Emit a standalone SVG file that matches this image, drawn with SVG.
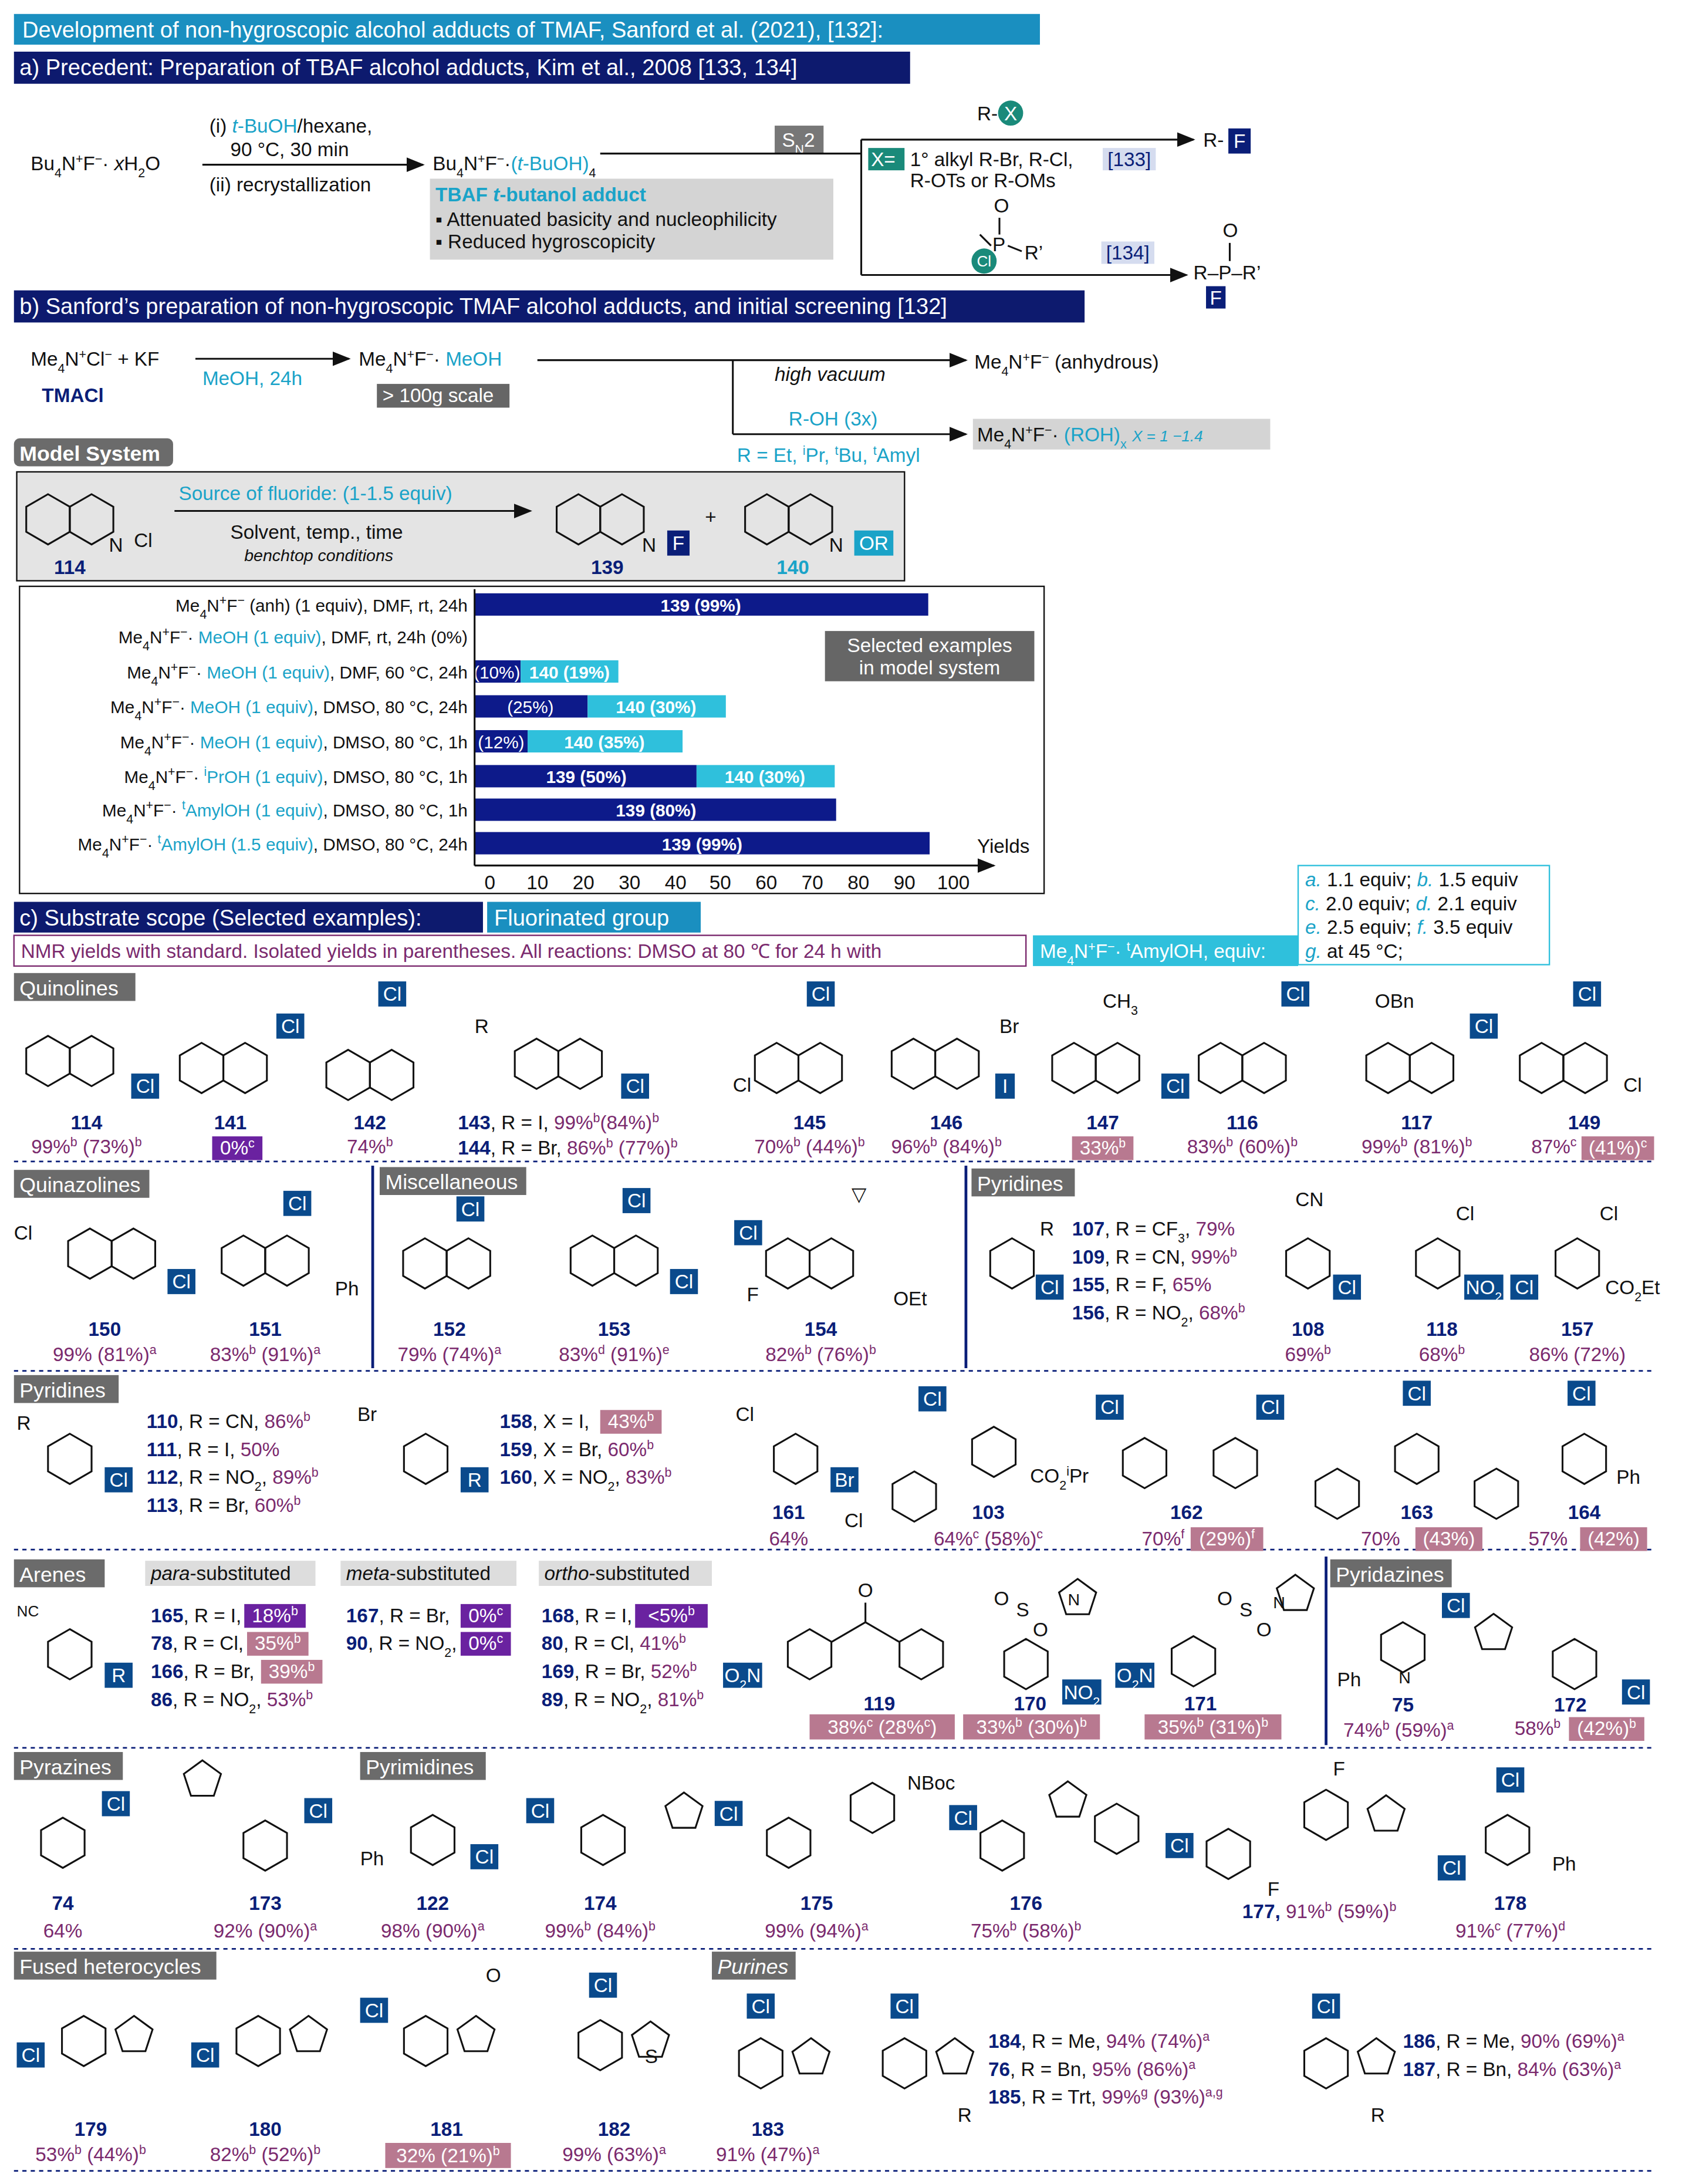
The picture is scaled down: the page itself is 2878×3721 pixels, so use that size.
<svg xmlns="http://www.w3.org/2000/svg" xmlns:xlink="http://www.w3.org/1999/xlink" width="2878" height="3721" viewBox="0 0 2878 3721">
<style>
text{font-family:"Liberation Sans",Arial,sans-serif;font-size:14px;fill:#111}
.w{fill:#fff}.t{fill:#1aa3c8}.n{fill:#0a1e78}.p{fill:#7b2a6e}.b{font-weight:bold}.i{font-style:italic}
.m{text-anchor:middle}.e{text-anchor:end}
.s{font-size:9px;baseline-shift:super}.d{font-size:9px;baseline-shift:sub}
.clb rect{fill:#0a4a8c}.clb text{fill:#fff;text-anchor:middle;font-size:14px}
.ring{fill:none;stroke:#111;stroke-width:1.3}
.ln{stroke:#111;stroke-width:1.3;fill:none}
.sep{stroke:#0a1e78;stroke-width:1.2;stroke-dasharray:3 3}
.hd rect{fill:#6b6b6b}.hd text{fill:#fff;font-size:15px}
.bx{fill:#b87990}.bxd{fill:#6a22a0}
</style>
<defs>
<path id="h" class="ring" d="M0,-18 L15.6,-9 L15.6,9 L0,18 L-15.6,9 L-15.6,-9Z"/>
<g id="q"><use xlink:href="#h" x="-15.6"/><use xlink:href="#h" x="15.6"/></g>
<path id="pt" class="ring" d="M0,-14 L13.3,-4.3 L8.2,11.3 L-8.2,11.3 L-13.3,-4.3Z"/>
<marker id="ar" markerWidth="10" markerHeight="8" refX="9" refY="4" orient="auto"><path d="M0,0 L10,4 L0,8Z" fill="#111"/></marker>
</defs>
<rect width="2878" height="3721" fill="#fff"/>
<g transform="scale(2.3785)">
<g id="headers">
<rect x="10" y="10" width="735" height="22" fill="#1a8fc0"/><text x="16" y="27" class="w" style="font-size:16px">Development of non-hygroscopic alcohol adducts of TMAF, Sanford et al. (2021), [132]:</text>
<rect x="10" y="37" width="642" height="23" fill="#0d1a6e"/><text x="14" y="54" class="w" style="font-size:16px">a) Precedent: Preparation of TBAF alcohol adducts, Kim et al., 2008 [133, 134]</text>
<rect x="10" y="208" width="767" height="23" fill="#0d1a6e"/><text x="14" y="225" class="w" style="font-size:16px">b) Sanford’s preparation of non-hygroscopic TMAF alcohol adducts, and initial screening [132]</text>
<rect x="10" y="646" width="336" height="22" fill="#0d1a6e"/><text x="14" y="663" class="w" style="font-size:16px">c) Substrate scope (Selected examples):</text>
<rect x="349" y="646" width="153" height="22" fill="#1a8fc0"/><text x="354" y="663" class="w" style="font-size:16px">Fluorinated group</text>
</g>
<g id="sectionA">
<text x="22" y="122">Bu<tspan class="d">4</tspan>N<tspan class="s">+</tspan>F<tspan class="s">−</tspan>· <tspan class="i">x</tspan>H<tspan class="d">2</tspan>O</text>
<text x="150" y="95">(i) <tspan class="t i">t</tspan><tspan class="t">-BuOH</tspan>/hexane,</text>
<text x="165" y="112">90 °C, 30 min</text>
<text x="150" y="137">(ii) recrystallization</text>
<text x="310" y="122">Bu<tspan class="d">4</tspan>N<tspan class="s">+</tspan>F<tspan class="s">−</tspan>·<tspan class="t">(<tspan class="i">t</tspan>-BuOH)</tspan><tspan class="d">4</tspan></text>
<rect x="308" y="128" width="289" height="58" fill="#d4d4d4"/>
<text x="312" y="144" class="t b">TBAF <tspan class="i">t</tspan>-butanol adduct</text>
<text x="312" y="162">▪ Attenuated basicity and nucleophilicity</text>
<text x="312" y="178">▪ Reduced hygroscopicity</text>
<rect x="555" y="90" width="35" height="20" fill="#777"/><text x="572" y="105" class="w m">S<tspan class="d">N</tspan>2</text>
<text x="700" y="86">R-</text><circle cx="724" cy="81" r="9" fill="#1a8a7a"/><text x="724" y="86" class="w m">X</text>
<rect x="622" y="106" width="26" height="16" fill="#1a8a7a"/><text x="624" y="119" class="w">X=</text>
<text x="652" y="119">1° alkyl R-Br, R-Cl,</text><text x="652" y="134">R-OTs or R-OMs</text>
<rect x="790" y="106" width="38" height="16" fill="#d5dcef"/><text x="809" y="119" class="m n">[133]</text>
<text x="712" y="152">O</text><line x1="716" y1="156" x2="716" y2="168" class="ln"/><text x="711" y="180">P</text><line x1="722" y1="176" x2="732" y2="180" class="ln"/><line x1="710" y1="176" x2="702" y2="168" class="ln"/><text x="734" y="186">R’</text>
<circle cx="705" cy="187" r="9" fill="#1a8a7a"/><text x="705" y="191" class="w m" style="font-size:11px">Cl</text>
<rect x="789" y="173" width="38" height="16" fill="#d5dcef"/><text x="808" y="186" class="m n">[134]</text>
<text x="862" y="105">R-</text><rect x="880" y="92" width="16" height="18" fill="#0a1e78"/><text x="888" y="106" class="w m">F</text>
<text x="855" y="200">R–P–R’</text><text x="876" y="170">O</text><line x1="881" y1="174" x2="881" y2="187" class="ln"/>
<rect x="864" y="205" width="14" height="16" fill="#0a1e78"/><text x="871" y="218" class="w m">F</text>
</g>
<g id="sectionB">
<text x="22" y="262">Me<tspan class="d">4</tspan>N<tspan class="s">+</tspan>Cl<tspan class="s">−</tspan> + KF</text>
<text x="30" y="288" class="n b">TMACl</text>
<text x="145" y="276" class="t">MeOH, 24h</text>
<text x="257" y="262">Me<tspan class="d">4</tspan>N<tspan class="s">+</tspan>F<tspan class="s">−</tspan>· <tspan class="t">MeOH</tspan></text>
<rect x="270" y="275" width="95" height="17" fill="#666"/><text x="274" y="288" class="w">&gt; 100g scale</text>
<text x="555" y="273" class="i">high vacuum</text>
<text x="698" y="264">Me<tspan class="d">4</tspan>N<tspan class="s">+</tspan>F<tspan class="s">−</tspan> (anhydrous)</text>
<text x="565" y="305" class="t">R-OH (3x)</text>
<text x="528" y="331" class="t">R = Et, <tspan class="s">i</tspan>Pr, <tspan class="s">t</tspan>Bu, <tspan class="s">t</tspan>Amyl</text>
<rect x="697" y="300" width="213" height="22" fill="#d4d4d4"/>
<text x="700" y="316">Me<tspan class="d">4</tspan>N<tspan class="s">+</tspan>F<tspan class="s">−</tspan>· <tspan class="t">(ROH)<tspan class="d">x</tspan></tspan> <tspan class="t i" style="font-size:11px">X = 1 −1.4</tspan></text>
<g class="hd"><rect x="10" y="314" width="114" height="20" rx="4"/><text x="14" y="330" class="b">Model System</text></g>
<rect x="12" y="338" width="636" height="78" fill="#e4e4e4" stroke="#111"/>
<use xlink:href="#q" x="50" y="372"/><text x="78" y="395">N</text><text x="96" y="392">Cl</text><text x="50" y="411" class="n b m">114</text>
<text x="128" y="358" class="t">Source of fluoride: (1-1.5 equiv)</text>
<text x="165" y="386">Solvent, temp., time</text><text x="175" y="402" class="i" style="font-size:12px">benchtop conditions</text>
<use xlink:href="#q" x="430" y="372"/><text x="460" y="395">N</text><rect x="478" y="380" width="16" height="18" fill="#0a1e78"/><text x="486" y="394" class="w m">F</text><text x="435" y="411" class="n b m">139</text>
<text x="505" y="375">+</text>
<use xlink:href="#q" x="565" y="372"/><text x="594" y="395">N</text><rect x="612" y="380" width="28" height="18" fill="#1aa3c8"/><text x="626" y="394" class="w m">OR</text><text x="568" y="411" class="t b m">140</text>
</g>
<g id="chart">
<rect x="14" y="420" width="734" height="220" fill="none" stroke="#111"/>
<text x="335" y="438" class="e" style="font-size:12.5px">Me<tspan class="d">4</tspan>N<tspan class="s">+</tspan>F<tspan class="s">−</tspan> (anh) (1 equiv), DMF, rt, 24h</text>
<text x="335" y="461" class="e" style="font-size:12.5px">Me<tspan class="d">4</tspan>N<tspan class="s">+</tspan>F<tspan class="s">−</tspan>· <tspan class="t">MeOH (1 equiv)</tspan>, DMF, rt, 24h (0%)</text>
<text x="335" y="486" class="e" style="font-size:12.5px">Me<tspan class="d">4</tspan>N<tspan class="s">+</tspan>F<tspan class="s">−</tspan>· <tspan class="t">MeOH (1 equiv)</tspan>, DMF, 60 °C, 24h</text>
<text x="335" y="511" class="e" style="font-size:12.5px">Me<tspan class="d">4</tspan>N<tspan class="s">+</tspan>F<tspan class="s">−</tspan>· <tspan class="t">MeOH (1 equiv)</tspan>, DMSO, 80 °C, 24h</text>
<text x="335" y="536" class="e" style="font-size:12.5px">Me<tspan class="d">4</tspan>N<tspan class="s">+</tspan>F<tspan class="s">−</tspan>· <tspan class="t">MeOH (1 equiv)</tspan>, DMSO, 80 °C, 1h</text>
<text x="335" y="561" class="e" style="font-size:12.5px">Me<tspan class="d">4</tspan>N<tspan class="s">+</tspan>F<tspan class="s">−</tspan>· <tspan class="t"><tspan class="s">i</tspan>PrOH (1 equiv)</tspan>, DMSO, 80 °C, 1h</text>
<text x="335" y="585" class="e" style="font-size:12.5px">Me<tspan class="d">4</tspan>N<tspan class="s">+</tspan>F<tspan class="s">−</tspan>· <tspan class="t"><tspan class="s">t</tspan>AmylOH (1 equiv)</tspan>, DMSO, 80 °C, 1h</text>
<text x="335" y="609" class="e" style="font-size:12.5px">Me<tspan class="d">4</tspan>N<tspan class="s">+</tspan>F<tspan class="s">−</tspan>· <tspan class="t"><tspan class="s">t</tspan>AmylOH (1.5 equiv)</tspan>, DMSO, 80 °C, 24h</text>
<g fill="#0d1a8a">
<rect x="340" y="425" width="325" height="16"/><rect x="340" y="473" width="33" height="16"/><rect x="340" y="498" width="81" height="16"/><rect x="340" y="523" width="38" height="16"/><rect x="340" y="548" width="159" height="16"/><rect x="340" y="572" width="259" height="16"/><rect x="340" y="596" width="326" height="16"/>
</g>
<g fill="#2fc0dc"><rect x="373" y="473" width="70" height="16"/><rect x="421" y="498" width="99" height="16"/><rect x="378" y="523" width="111" height="16"/><rect x="499" y="548" width="99" height="16"/></g>
<text x="502" y="438" class="w m b" style="font-size:12.5px">139 (99%)</text>
<text x="356" y="486" class="w m" style="font-size:12.5px">(10%)</text><text x="408" y="486" class="w m b" style="font-size:12.5px">140 (19%)</text>
<text x="380" y="511" class="w m" style="font-size:12.5px">(25%)</text><text x="470" y="511" class="w m b" style="font-size:12.5px">140 (30%)</text>
<text x="359" y="536" class="w m" style="font-size:12.5px">(12%)</text><text x="433" y="536" class="w m b" style="font-size:12.5px">140 (35%)</text>
<text x="420" y="561" class="w m b" style="font-size:12.5px">139 (50%)</text><text x="548" y="561" class="w m b" style="font-size:12.5px">140 (30%)</text>
<text x="470" y="585" class="w m b" style="font-size:12.5px">139 (80%)</text>
<text x="503" y="609" class="w m b" style="font-size:12.5px">139 (99%)</text>
<rect x="591" y="452" width="150" height="36" fill="#666"/>
<text x="666" y="467" class="w m">Selected examples</text><text x="666" y="483" class="w m">in model system</text>
<text x="700" y="611">Yields</text>
<text x="351" y="637" class="m">0</text><text x="385" y="637" class="m">10</text><text x="418" y="637" class="m">20</text><text x="451" y="637" class="m">30</text><text x="484" y="637" class="m">40</text><text x="516" y="637" class="m">50</text><text x="549" y="637" class="m">60</text><text x="582" y="637" class="m">70</text><text x="615" y="637" class="m">80</text><text x="648" y="637" class="m">90</text><text x="683" y="637" class="m">100</text>
</g>
<g id="legend">
<rect x="930" y="620" width="180" height="71" fill="#fff" stroke="#2fc0dc"/>
<text x="935" y="635"><tspan class="t i">a.</tspan> 1.1 equiv; <tspan class="t i">b.</tspan> 1.5 equiv</text>
<text x="935" y="652"><tspan class="t i">c.</tspan> 2.0 equiv; <tspan class="t i">d.</tspan> 2.1 equiv</text>
<text x="935" y="669"><tspan class="t i">e.</tspan> 2.5 equiv; <tspan class="t i">f.</tspan> 3.5 equiv</text>
<text x="935" y="686"><tspan class="t i">g.</tspan> at 45 °C;</text>
<rect x="10" y="670" width="725" height="22" fill="#fff" stroke="#7b2a6e"/>
<text x="15" y="686" class="p">NMR yields with standard. Isolated yields in parentheses. All reactions: DMSO at 80 ℃ for 24 h with</text>
<rect x="740" y="670" width="190" height="22" fill="#2fc0dc"/>
<text x="745" y="686" class="w">Me<tspan class="d">4</tspan>N<tspan class="s">+</tspan>F<tspan class="s">−</tspan>· <tspan class="s">t</tspan>AmylOH, equiv:</text>
</g>
<g id="connectors">
<line x1="145" y1="118" x2="303" y2="118" class="ln" marker-end="url(#ar)"/>
<line x1="430" y1="110" x2="617" y2="110" class="ln"/>
<line x1="617" y1="100" x2="617" y2="197" class="ln"/>
<line x1="617" y1="100" x2="855" y2="100" class="ln" marker-end="url(#ar)"/>
<line x1="617" y1="197" x2="850" y2="197" class="ln" marker-end="url(#ar)"/>
<line x1="140" y1="257" x2="250" y2="257" class="ln" marker-end="url(#ar)"/>
<line x1="385" y1="258" x2="692" y2="258" class="ln" marker-end="url(#ar)"/>
<line x1="525" y1="258" x2="525" y2="311" class="ln"/>
<line x1="525" y1="311" x2="692" y2="311" class="ln" marker-end="url(#ar)"/>
<line x1="125" y1="366" x2="380" y2="366" class="ln" marker-end="url(#ar)"/>
<line x1="340" y1="620" x2="712" y2="620" class="ln" marker-end="url(#ar)"/>
<line x1="340" y1="422" x2="340" y2="620" class="ln"/>
<line x1="10" y1="832" x2="1185" y2="832" class="sep"/><line x1="10" y1="982" x2="1185" y2="982" class="sep"/><line x1="10" y1="1110" x2="1185" y2="1110" class="sep"/><line x1="10" y1="1252" x2="1185" y2="1252" class="sep"/><line x1="10" y1="1396" x2="1185" y2="1396" class="sep"/><line x1="10" y1="1555" x2="1185" y2="1555" class="sep"/>
<line x1="267" y1="835" x2="267" y2="980" stroke="#0a1e78" stroke-width="2"/><line x1="692" y1="835" x2="692" y2="980" stroke="#0a1e78" stroke-width="2"/><line x1="950" y1="1115" x2="950" y2="1250" stroke="#0a1e78" stroke-width="2"/>
</g>
<g id="quinolines">
<g class="hd"><rect x="10" y="697" width="87" height="20"/><text x="14" y="713">Quinolines</text></g>
<use xlink:href="#q" x="50" y="760"/><g class="clb" transform="translate(104,778)"><rect x="-10" y="-9" width="20" height="18"/><text y="5">Cl</text></g><text x="62" y="809" class="n b m">114</text><text x="62" y="826" class="p m">99%<tspan class="s">b</tspan> (73%)<tspan class="s">b</tspan></text>
<use xlink:href="#q" x="160" y="765"/><g class="clb" transform="translate(208,735)"><rect x="-10" y="-9" width="20" height="18"/><text y="5">Cl</text></g><text x="165" y="809" class="n b m">141</text><rect x="152" y="814" width="36" height="17" class="bxd"/><text x="170" y="827" class="w m">0%<tspan class="s">c</tspan></text>
<use xlink:href="#q" x="265" y="770"/><g class="clb" transform="translate(281,712)"><rect x="-10" y="-9" width="20" height="18"/><text y="5">Cl</text></g><text x="265" y="809" class="n b m">142</text><text x="265" y="826" class="p m">74%<tspan class="s">b</tspan></text>
<use xlink:href="#q" x="400" y="762"/><text x="340" y="740">R</text><g class="clb" transform="translate(455,778)"><rect x="-10" y="-9" width="20" height="18"/><text y="5">Cl</text></g>
<text x="328" y="809"><tspan class="n b">143</tspan>, R = I, <tspan class="p">99%<tspan class="s">b</tspan>(84%)<tspan class="s">b</tspan></tspan></text>
<text x="328" y="827"><tspan class="n b">144</tspan>, R = Br, <tspan class="p">86%<tspan class="s">b</tspan> (77%)<tspan class="s">b</tspan></tspan></text>
<use xlink:href="#q" x="572" y="765"/><g class="clb" transform="translate(588,712)"><rect x="-10" y="-9" width="20" height="18"/><text y="5">Cl</text></g><text x="525" y="782">Cl</text><text x="580" y="809" class="n b m">145</text><text x="580" y="826" class="p m">70%<tspan class="s">b</tspan> (44%)<tspan class="s">b</tspan></text>
<use xlink:href="#q" x="670" y="762"/><text x="716" y="740">Br</text><g class="clb" transform="translate(720,778)"><rect x="-7" y="-9" width="14" height="18"/><text y="5">I</text></g><text x="678" y="809" class="n b m">146</text><text x="678" y="826" class="p m">96%<tspan class="s">b</tspan> (84%)<tspan class="s">b</tspan></text>
<use xlink:href="#q" x="785" y="765"/><text x="790" y="722">CH<tspan class="d">3</tspan></text><g class="clb" transform="translate(842,778)"><rect x="-10" y="-9" width="20" height="18"/><text y="5">Cl</text></g><text x="790" y="809" class="n b m">147</text><rect x="768" y="814" width="44" height="17" class="bx"/><text x="790" y="827" class="w m">33%<tspan class="s">b</tspan></text>
<use xlink:href="#q" x="890" y="765"/><g class="clb" transform="translate(928,712)"><rect x="-10" y="-9" width="20" height="18"/><text y="5">Cl</text></g><text x="890" y="809" class="n b m">116</text><text x="890" y="826" class="p m">83%<tspan class="s">b</tspan> (60%)<tspan class="s">b</tspan></text>
<use xlink:href="#q" x="1010" y="765"/><text x="985" y="722">OBn</text><g class="clb" transform="translate(1063,735)"><rect x="-10" y="-9" width="20" height="18"/><text y="5">Cl</text></g><text x="1015" y="809" class="n b m">117</text><text x="1015" y="826" class="p m">99%<tspan class="s">b</tspan> (81%)<tspan class="s">b</tspan></text>
<use xlink:href="#q" x="1120" y="765"/><g class="clb" transform="translate(1137,712)"><rect x="-10" y="-9" width="20" height="18"/><text y="5">Cl</text></g><text x="1163" y="782">Cl</text><text x="1135" y="809" class="n b m">149</text><text x="1097" y="826" class="p">87%<tspan class="s">c</tspan></text><rect x="1133" y="814" width="52" height="17" class="bx"/><text x="1159" y="827" class="w m">(41%)<tspan class="s">c</tspan></text>
</g>
<g id="row2">
<g class="hd"><rect x="10" y="838" width="97" height="20"/><text x="14" y="854">Quinazolines</text><rect x="272" y="836" width="105" height="20"/><text x="276" y="852">Miscellaneous</text><rect x="696" y="837" width="74" height="20"/><text x="700" y="853">Pyridines</text></g>
<use xlink:href="#q" x="80" y="898"/><text x="10" y="888">Cl</text><g class="clb" transform="translate(130,918)"><rect x="-10" y="-9" width="20" height="18"/><text y="5">Cl</text></g><text x="75" y="957" class="n b m">150</text><text x="75" y="975" class="p m">99% (81%)<tspan class="s">a</tspan></text>
<use xlink:href="#q" x="190" y="903"/><g class="clb" transform="translate(213,862)"><rect x="-10" y="-9" width="20" height="18"/><text y="5">Cl</text></g><text x="240" y="928">Ph</text><text x="190" y="957" class="n b m">151</text><text x="190" y="975" class="p m">83%<tspan class="s">b</tspan> (91%)<tspan class="s">a</tspan></text>
<use xlink:href="#q" x="320" y="905"/><g class="clb" transform="translate(337,866)"><rect x="-10" y="-9" width="20" height="18"/><text y="5">Cl</text></g><text x="322" y="957" class="n b m">152</text><text x="322" y="975" class="p m">79% (74%)<tspan class="s">a</tspan></text>
<use xlink:href="#q" x="440" y="903"/><g class="clb" transform="translate(456,860)"><rect x="-10" y="-9" width="20" height="18"/><text y="5">Cl</text></g><g class="clb" transform="translate(490,918)"><rect x="-10" y="-9" width="20" height="18"/><text y="5">Cl</text></g><text x="440" y="957" class="n b m">153</text><text x="440" y="975" class="p m">83%<tspan class="s">d</tspan> (91%)<tspan class="s">e</tspan></text>
<use xlink:href="#q" x="580" y="905"/><g class="clb" transform="translate(536,883)"><rect x="-10" y="-9" width="20" height="18"/><text y="5">Cl</text></g><text x="535" y="932">F</text><text x="610" y="860">▽</text><text x="640" y="935">OEt</text><text x="588" y="957" class="n b m">154</text><text x="588" y="975" class="p m">82%<tspan class="s">b</tspan> (76%)<tspan class="s">b</tspan></text>
<use xlink:href="#h" x="725" y="905"/><text x="745" y="885">R</text><g class="clb" transform="translate(752,922)"><rect x="-10" y="-9" width="20" height="18"/><text y="5">Cl</text></g>
<text x="768" y="885"><tspan class="n b">107</tspan>, R = CF<tspan class="d">3</tspan>, <tspan class="p">79%</tspan></text>
<text x="768" y="905"><tspan class="n b">109</tspan>, R = CN, <tspan class="p">99%<tspan class="s">b</tspan></tspan></text>
<text x="768" y="925"><tspan class="n b">155</tspan>, R = F, <tspan class="p">65%</tspan></text>
<text x="768" y="945"><tspan class="n b">156</tspan>, R = NO<tspan class="d">2</tspan>, <tspan class="p">68%<tspan class="s">b</tspan></tspan></text>
<use xlink:href="#h" x="937" y="905"/><text x="928" y="864">CN</text><g class="clb" transform="translate(965,922)"><rect x="-10" y="-9" width="20" height="18"/><text y="5">Cl</text></g><text x="937" y="957" class="n b m">108</text><text x="937" y="975" class="p m">69%<tspan class="s">b</tspan></text>
<use xlink:href="#h" x="1030" y="905"/><text x="1043" y="874">Cl</text><g class="clb" transform="translate(1063,922)"><rect x="-14" y="-9" width="28" height="18"/><text y="5">NO<tspan class="d">2</tspan></text></g><text x="1033" y="957" class="n b m">118</text><text x="1033" y="975" class="p m">68%<tspan class="s">b</tspan></text>
<use xlink:href="#h" x="1130" y="905"/><text x="1146" y="874">Cl</text><g class="clb" transform="translate(1092,922)"><rect x="-10" y="-9" width="20" height="18"/><text y="5">Cl</text></g><text x="1150" y="927">CO<tspan class="d">2</tspan>Et</text><text x="1130" y="957" class="n b m">157</text><text x="1130" y="975" class="p m">86% (72%)</text>
</g>
<g id="row3">
<g class="hd"><rect x="10" y="985" width="75" height="20"/><text x="14" y="1001">Pyridines</text></g>
<use xlink:href="#h" x="50" y="1045"/><text x="12" y="1024">R</text><g class="clb" transform="translate(85,1060)"><rect x="-10" y="-9" width="20" height="18"/><text y="5">Cl</text></g>
<text x="105" y="1023"><tspan class="n b">110</tspan>, R = CN, <tspan class="p">86%<tspan class="s">b</tspan></tspan></text>
<text x="105" y="1043"><tspan class="n b">111</tspan>, R = I, <tspan class="p">50%</tspan></text>
<text x="105" y="1063"><tspan class="n b">112</tspan>, R = NO<tspan class="d">2</tspan>, <tspan class="p">89%<tspan class="s">b</tspan></tspan></text>
<text x="105" y="1083"><tspan class="n b">113</tspan>, R = Br, <tspan class="p">60%<tspan class="s">b</tspan></tspan></text>
<use xlink:href="#h" x="305" y="1045"/><text x="256" y="1018">Br</text><g class="clb" transform="translate(340,1060)"><rect x="-10" y="-9" width="20" height="18"/><text y="5">R</text></g>
<text x="358" y="1023"><tspan class="n b">158</tspan>, X = I, </text><rect x="430" y="1010" width="44" height="17" class="bx"/><text x="452" y="1023" class="w m">43%<tspan class="s">b</tspan></text>
<text x="358" y="1043"><tspan class="n b">159</tspan>, X = Br, <tspan class="p">60%<tspan class="s">b</tspan></tspan></text>
<text x="358" y="1063"><tspan class="n b">160</tspan>, X = NO<tspan class="d">2</tspan>, <tspan class="p">83%<tspan class="s">b</tspan></tspan></text>
<use xlink:href="#h" x="570" y="1045"/><text x="527" y="1018">Cl</text><g class="clb" transform="translate(605,1060)"><rect x="-10" y="-9" width="20" height="18"/><text y="5">Br</text></g><text x="565" y="1088" class="n b m">161</text><text x="565" y="1107" class="p m">64%</text>
<use xlink:href="#h" x="712" y="1040"/><use xlink:href="#h" x="655" y="1072"/><g class="clb" transform="translate(668,1002)"><rect x="-10" y="-9" width="20" height="18"/><text y="5">Cl</text></g><text x="605" y="1094">Cl</text><text x="738" y="1062">CO<tspan class="d">2</tspan><tspan class="s">i</tspan>Pr</text><text x="708" y="1088" class="n b m">103</text><text x="708" y="1107" class="p m">64%<tspan class="s">c</tspan> (58%)<tspan class="s">c</tspan></text>
<use xlink:href="#h" x="820" y="1048"/><use xlink:href="#h" x="885" y="1048"/><g class="clb" transform="translate(795,1008)"><rect x="-10" y="-9" width="20" height="18"/><text y="5">Cl</text></g><g class="clb" transform="translate(910,1008)"><rect x="-10" y="-9" width="20" height="18"/><text y="5">Cl</text></g><text x="850" y="1088" class="n b m">162</text><text x="818" y="1107" class="p">70%<tspan class="s">f</tspan></text><rect x="853" y="1094" width="52" height="17" class="bx"/><text x="879" y="1107" class="w m">(29%)<tspan class="s">f</tspan></text>
<use xlink:href="#h" x="1015" y="1045"/><use xlink:href="#h" x="958" y="1070"/><use xlink:href="#h" x="1072" y="1070"/><g class="clb" transform="translate(1015,998)"><rect x="-10" y="-9" width="20" height="18"/><text y="5">Cl</text></g><text x="1015" y="1088" class="n b m">163</text><text x="975" y="1107" class="p">70%</text><rect x="1014" y="1094" width="48" height="17" class="bx"/><text x="1038" y="1107" class="w m">(43%)</text>
<use xlink:href="#h" x="1135" y="1045"/><g class="clb" transform="translate(1133,998)"><rect x="-10" y="-9" width="20" height="18"/><text y="5">Cl</text></g><text x="1158" y="1063">Ph</text><text x="1135" y="1088" class="n b m">164</text><text x="1095" y="1107" class="p">57%</text><rect x="1132" y="1094" width="48" height="17" class="bx"/><text x="1156" y="1107" class="w m">(42%)</text>
</g>
<g id="row4">
<g class="hd"><rect x="10" y="1117" width="65" height="20"/><text x="14" y="1133">Arenes</text></g>
<rect x="104" y="1118" width="122" height="18" fill="#ddd"/><text x="108" y="1132"><tspan class="i">para</tspan>-substituted</text>
<rect x="244" y="1118" width="126" height="18" fill="#ddd"/><text x="248" y="1132"><tspan class="i">meta</tspan>-substituted</text>
<rect x="386" y="1118" width="124" height="18" fill="#ddd"/><text x="390" y="1132"><tspan class="i">ortho</tspan>-substituted</text>
<use xlink:href="#h" x="50" y="1185"/><text x="12" y="1158" style="font-size:11px">NC</text><g class="clb" transform="translate(85,1200)"><rect x="-10" y="-9" width="20" height="18"/><text y="5">R</text></g>
<text x="108" y="1162"><tspan class="n b">165</tspan>, R = I, </text><rect x="175" y="1149" width="44" height="17" class="bxd"/><text x="197" y="1162" class="w m">18%<tspan class="s">b</tspan></text>
<text x="108" y="1182"><tspan class="n b">78</tspan>, R = Cl, </text><rect x="177" y="1169" width="44" height="17" class="bx"/><text x="199" y="1182" class="w m">35%<tspan class="s">b</tspan></text>
<text x="108" y="1202"><tspan class="n b">166</tspan>, R = Br, </text><rect x="187" y="1189" width="44" height="17" class="bx"/><text x="209" y="1202" class="w m">39%<tspan class="s">b</tspan></text>
<text x="108" y="1222"><tspan class="n b">86</tspan>, R = NO<tspan class="d">2</tspan>, <tspan class="p">53%<tspan class="s">b</tspan></tspan></text>
<text x="248" y="1162"><tspan class="n b">167</tspan>, R = Br, </text><rect x="330" y="1149" width="36" height="17" class="bxd"/><text x="348" y="1162" class="w m">0%<tspan class="s">c</tspan></text>
<text x="248" y="1182"><tspan class="n b">90</tspan>, R = NO<tspan class="d">2</tspan>, </text><rect x="330" y="1169" width="36" height="17" class="bxd"/><text x="348" y="1182" class="w m">0%<tspan class="s">c</tspan></text>
<text x="388" y="1162"><tspan class="n b">168</tspan>, R = I, </text><rect x="455" y="1149" width="52" height="17" class="bxd"/><text x="481" y="1162" class="w m">&lt;5%<tspan class="s">b</tspan></text>
<text x="388" y="1182"><tspan class="n b">80</tspan>, R = Cl, <tspan class="p">41%<tspan class="s">b</tspan></tspan></text>
<text x="388" y="1202"><tspan class="n b">169</tspan>, R = Br, <tspan class="p">52%<tspan class="s">b</tspan></tspan></text>
<text x="388" y="1222"><tspan class="n b">89</tspan>, R = NO<tspan class="d">2</tspan>, <tspan class="p">81%<tspan class="s">b</tspan></tspan></text>
<use xlink:href="#h" x="580" y="1185"/><use xlink:href="#h" x="660" y="1185"/><line x1="596" y1="1176" x2="620" y2="1162" class="ln"/><line x1="644" y1="1176" x2="620" y2="1162" class="ln"/><line x1="620" y1="1162" x2="620" y2="1148" class="ln"/><text x="620" y="1144" class="m">O</text><g class="clb" transform="translate(532,1200)"><rect x="-14" y="-9" width="28" height="18"/><text y="5">O<tspan class="d">2</tspan>N</text></g><text x="630" y="1225" class="n b m">119</text><rect x="580" y="1228" width="104" height="18" class="bx"/><text x="632" y="1242" class="w m">38%<tspan class="s">c</tspan> (28%<tspan class="s">c</tspan>)</text>
<use xlink:href="#h" x="735" y="1192"/><text x="712" y="1150">O</text><text x="728" y="1158">S</text><text x="740" y="1172">O</text><use xlink:href="#pt" x="772" y="1145"/><text x="765" y="1150" style="font-size:12px">N</text><g class="clb" transform="translate(775,1212)"><rect x="-14" y="-9" width="28" height="18"/><text y="5">NO<tspan class="d">2</tspan></text></g><text x="738" y="1225" class="n b m">170</text><rect x="690" y="1228" width="98" height="18" class="bx"/><text x="739" y="1242" class="w m">33%<tspan class="s">b</tspan> (30%)<tspan class="s">b</tspan></text>
<use xlink:href="#h" x="855" y="1190"/><text x="872" y="1150">O</text><text x="888" y="1158">S</text><text x="900" y="1172">O</text><use xlink:href="#pt" x="928" y="1142"/><text x="912" y="1152" style="font-size:12px">N</text><g class="clb" transform="translate(813,1200)"><rect x="-14" y="-9" width="28" height="18"/><text y="5">O<tspan class="d">2</tspan>N</text></g><text x="860" y="1225" class="n b m">171</text><rect x="820" y="1228" width="98" height="18" class="bx"/><text x="869" y="1242" class="w m">35%<tspan class="s">b</tspan> (31%)<tspan class="s">b</tspan></text>
<g class="hd"><rect x="953" y="1117" width="87" height="20"/><text x="957" y="1133">Pyridazines</text></g>
<use xlink:href="#h" x="1005" y="1180"/><g class="clb" transform="translate(1043,1150)"><rect x="-10" y="-9" width="20" height="18"/><text y="5">Cl</text></g><text x="958" y="1208">Ph</text><text x="1002" y="1206" style="font-size:12px">N</text><text x="1005" y="1226" class="n b m">75</text><text x="1002" y="1244" class="p m">74%<tspan class="s">b</tspan> (59%)<tspan class="s">a</tspan></text>
<use xlink:href="#pt" x="1070" y="1170"/><use xlink:href="#h" x="1128" y="1192"/><g class="clb" transform="translate(1172,1212)"><rect x="-10" y="-9" width="20" height="18"/><text y="5">Cl</text></g><text x="1125" y="1226" class="n b m">172</text><text x="1085" y="1243" class="p">58%<tspan class="s">b</tspan></text><rect x="1124" y="1230" width="54" height="17" class="bx"/><text x="1151" y="1243" class="w m">(42%)<tspan class="s">b</tspan></text>
</g>
<g id="row5">
<g class="hd"><rect x="10" y="1255" width="78" height="20"/><text x="14" y="1271">Pyrazines</text><rect x="258" y="1255" width="90" height="20"/><text x="262" y="1271">Pyrimidines</text></g>
<use xlink:href="#h" x="45" y="1320"/><g class="clb" transform="translate(83,1292)"><rect x="-10" y="-9" width="20" height="18"/><text y="5">Cl</text></g><text x="45" y="1368" class="n b m">74</text><text x="45" y="1388" class="p m">64%</text>
<use xlink:href="#h" x="190" y="1322"/><use xlink:href="#pt" x="145" y="1275"/><g class="clb" transform="translate(228,1297)"><rect x="-10" y="-9" width="20" height="18"/><text y="5">Cl</text></g><text x="190" y="1368" class="n b m">173</text><text x="190" y="1388" class="p m">92% (90%)<tspan class="s">a</tspan></text>
<use xlink:href="#h" x="310" y="1318"/><text x="258" y="1336">Ph</text><g class="clb" transform="translate(347,1330)"><rect x="-10" y="-9" width="20" height="18"/><text y="5">Cl</text></g><text x="310" y="1368" class="n b m">122</text><text x="310" y="1388" class="p m">98% (90%)<tspan class="s">a</tspan></text>
<use xlink:href="#h" x="432" y="1318"/><g class="clb" transform="translate(387,1297)"><rect x="-10" y="-9" width="20" height="18"/><text y="5">Cl</text></g><use xlink:href="#pt" x="490" y="1298"/><text x="430" y="1368" class="n b m">174</text><text x="430" y="1388" class="p m">99%<tspan class="s">b</tspan> (84%)<tspan class="s">b</tspan></text>
<use xlink:href="#h" x="565" y="1320"/><g class="clb" transform="translate(522,1299)"><rect x="-10" y="-9" width="20" height="18"/><text y="5">Cl</text></g><use xlink:href="#h" x="625" y="1295"/><text x="650" y="1282">NBoc</text><text x="585" y="1368" class="n b m">175</text><text x="585" y="1388" class="p m">99% (94%)<tspan class="s">a</tspan></text>
<use xlink:href="#h" x="718" y="1322"/><g class="clb" transform="translate(690,1302)"><rect x="-10" y="-9" width="20" height="18"/><text y="5">Cl</text></g><use xlink:href="#pt" x="765" y="1290"/><use xlink:href="#h" x="800" y="1310"/><text x="735" y="1368" class="n b m">176</text><text x="735" y="1388" class="p m">75%<tspan class="s">b</tspan> (58%)<tspan class="s">b</tspan></text>
<use xlink:href="#h" x="880" y="1328"/><g class="clb" transform="translate(845,1322)"><rect x="-10" y="-9" width="20" height="18"/><text y="5">Cl</text></g><use xlink:href="#h" x="950" y="1300"/><use xlink:href="#pt" x="993" y="1300"/><text x="955" y="1272">F</text><text x="908" y="1358">F</text><text x="890" y="1374"><tspan class="n b">177,</tspan> <tspan class="p">91%<tspan class="s">b</tspan> (59%)<tspan class="s">b</tspan></tspan></text>
<use xlink:href="#h" x="1080" y="1318"/><g class="clb" transform="translate(1082,1275)"><rect x="-10" y="-9" width="20" height="18"/><text y="5">Cl</text></g><g class="clb" transform="translate(1040,1338)"><rect x="-10" y="-9" width="20" height="18"/><text y="5">Cl</text></g><text x="1112" y="1340">Ph</text><text x="1082" y="1368" class="n b m">178</text><text x="1082" y="1388" class="p m">91%<tspan class="s">c</tspan> (77%)<tspan class="s">d</tspan></text>
</g>
<g id="row6">
<g class="hd"><rect x="10" y="1398" width="145" height="20"/><text x="14" y="1414">Fused heterocycles</text><rect x="510" y="1398" width="60" height="20"/><text x="514" y="1414" class="i">Purines</text></g>
<use xlink:href="#h" x="60" y="1462"/><use xlink:href="#pt" x="96" y="1458"/><g class="clb" transform="translate(22,1472)"><rect x="-10" y="-9" width="20" height="18"/><text y="5">Cl</text></g><text x="65" y="1530" class="n b m">179</text><text x="65" y="1548" class="p m">53%<tspan class="s">b</tspan> (44%)<tspan class="s">b</tspan></text>
<use xlink:href="#h" x="185" y="1462"/><use xlink:href="#pt" x="221" y="1458"/><g class="clb" transform="translate(147,1472)"><rect x="-10" y="-9" width="20" height="18"/><text y="5">Cl</text></g><text x="190" y="1530" class="n b m">180</text><text x="190" y="1548" class="p m">82%<tspan class="s">b</tspan> (52%)<tspan class="s">b</tspan></text>
<use xlink:href="#h" x="305" y="1462"/><use xlink:href="#pt" x="341" y="1458"/><g class="clb" transform="translate(268,1440)"><rect x="-10" y="-9" width="20" height="18"/><text y="5">Cl</text></g><text x="348" y="1420">O</text><text x="320" y="1530" class="n b m">181</text><rect x="276" y="1535" width="90" height="18" class="bx"/><text x="321" y="1549" class="w m">32% (21%)<tspan class="s">b</tspan></text>
<use xlink:href="#h" x="430" y="1465"/><use xlink:href="#pt" x="466" y="1462"/><g class="clb" transform="translate(432,1422)"><rect x="-10" y="-9" width="20" height="18"/><text y="5">Cl</text></g><text x="462" y="1478">S</text><text x="440" y="1530" class="n b m">182</text><text x="440" y="1548" class="p m">99% (63%)<tspan class="s">a</tspan></text>
<use xlink:href="#h" x="545" y="1478"/><use xlink:href="#pt" x="581" y="1474"/><g class="clb" transform="translate(545,1437)"><rect x="-10" y="-9" width="20" height="18"/><text y="5">Cl</text></g><text x="550" y="1530" class="n b m">183</text><text x="550" y="1548" class="p m">91% (47%)<tspan class="s">a</tspan></text>
<use xlink:href="#h" x="648" y="1478"/><use xlink:href="#pt" x="684" y="1474"/><g class="clb" transform="translate(648,1437)"><rect x="-10" y="-9" width="20" height="18"/><text y="5">Cl</text></g><text x="686" y="1520">R</text>
<text x="708" y="1467"><tspan class="n b">184</tspan>, R = Me, <tspan class="p">94% (74%)<tspan class="s">a</tspan></tspan></text>
<text x="708" y="1487"><tspan class="n b">76</tspan>, R = Bn, <tspan class="p">95% (86%)<tspan class="s">a</tspan></tspan></text>
<text x="708" y="1507"><tspan class="n b">185</tspan>, R = Trt, <tspan class="p">99%<tspan class="s">g</tspan> (93%)<tspan class="s">a,g</tspan></tspan></text>
<use xlink:href="#h" x="950" y="1478"/><use xlink:href="#pt" x="986" y="1474"/><g class="clb" transform="translate(950,1437)"><rect x="-10" y="-9" width="20" height="18"/><text y="5">Cl</text></g><text x="982" y="1520">R</text>
<text x="1005" y="1467"><tspan class="n b">186</tspan>, R = Me, <tspan class="p">90% (69%)<tspan class="s">a</tspan></tspan></text>
<text x="1005" y="1487"><tspan class="n b">187</tspan>, R = Bn, <tspan class="p">84% (63%)<tspan class="s">a</tspan></tspan></text>
</g>
</g>
</svg>
